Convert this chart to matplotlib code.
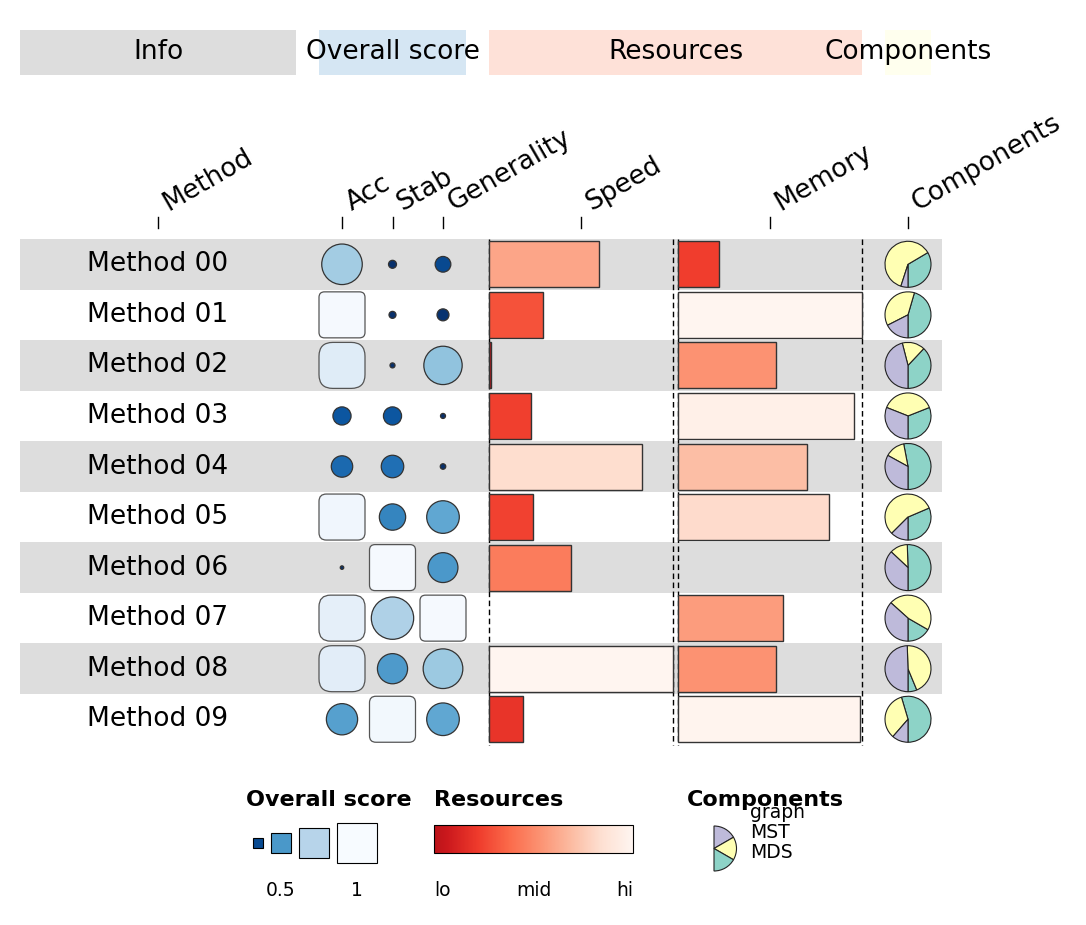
import numpy as np
import matplotlib
matplotlib.use("Agg")
import matplotlib.pyplot as plt
from matplotlib.patches import Rectangle, Circle, FancyBboxPatch, Wedge

# ---------------- data ----------------
methods = ["Method 00", "Method 01", "Method 02", "Method 03", "Method 04",
           "Method 05", "Method 06", "Method 07", "Method 08", "Method 09"]
acc = [0.70, 0.99, 0.90, 0.29, 0.35, 0.97, 0.022, 0.925, 0.91, 0.53]
stab = [0.104, 0.086, 0.05, 0.29, 0.37, 0.44, 0.99, 0.733, 0.51, 0.98]
gen = [0.245, 0.177, 0.66, 0.05, 0.059, 0.555, 0.505, 0.99, 0.684, 0.555]
speed = [0.60, 0.295, 0.012, 0.23, 0.83, 0.24, 0.445, 0.0, 1.0, 0.185]
memory = [0.225, 1.0, 0.53, 0.958, 0.70, 0.82, 0.0, 0.57, 0.53, 0.99]
comp_mds = [0.335, 0.455, 0.38, 0.31, 0.53, 0.314, 0.505, 0.167, 0.0625, 0.546]
comp_mst = [0.615, 0.37, 0.16, 0.38, 0.14, 0.56, 0.125, 0.467, 0.443, 0.34]
comp_graph = [0.05, 0.175, 0.46, 0.31, 0.33, 0.125, 0.37, 0.367, 0.495, 0.114]
comp_names = ["graph", "MST", "MDS"]
score_cols = ["Acc", "Stab", "Generality"]
res_cols = ["Speed", "Memory"]
groups = ["Info", "Overall score", "Resources", "Components"]
legend_scores = [0.25, 0.5, 0.75, 1.0]
legend_score_labels = {0.5: "0.5", 1.0: "1"}

# ---------------- layout ----------------
W_PX, H_PX = 1086, 925
fig = plt.figure(figsize=(W_PX / 100, H_PX / 100), dpi=100)
ax = fig.add_axes([0, 0, 1, 1])
ax.set_xlim(0, W_PX)
ax.set_ylim(H_PX, 0)
ax.axis("off")

row_y0, row_h, cell = 264.3, 50.55, 46.0
method_x = 158
score_x = [342, 392.5, 443]
bar_x0 = [489, 678]
bar_w = 184
pie_x = 908
pie_r = 23
fs = 19
lfs = 16

blues = matplotlib.colormaps["Blues"]
reds = matplotlib.colormaps["Reds"]
set3 = {"MDS": "#8dd3c7", "MST": "#ffffb3", "graph": "#bebada"}

def blue_col(v):
    return blues(min(1.0, 1.2 * (1 - v)))

def red_col(v):
    return reds(0.8 * (1 - v))

n = len(methods)
ys = [row_y0 + i * row_h for i in range(n)]
top = ys[0] - row_h / 2
bottom = ys[-1] + row_h / 2

# row backgrounds
for i, y in enumerate(ys):
    if i % 2 == 0:
        ax.add_patch(Rectangle((20, y - row_h / 2), 942 - 20, row_h,
                               facecolor="#dddddd", edgecolor="none", zorder=0))

# group header boxes
group_spans = [(20, 296, "#dddddd"), (319, 466, "#d5e6f3"),
               (489, 862, "#fee1d8"), (885, 931, "#ffffee")]
for name, (x0, x1, c) in zip(groups, group_spans):
    ax.add_patch(Rectangle((x0, 30), x1 - x0, 45, facecolor=c, edgecolor="none", zorder=1))
    ax.text((x0 + x1) / 2, 52, name, ha="center", va="center", fontsize=fs, zorder=2)

# column labels and ticks
col_labels = ["Method"] + score_cols + res_cols + ["Components"]
col_xs = [method_x] + score_x + [b + bar_w / 2 for b in bar_x0] + [pie_x]
for lab, x in zip(col_labels, col_xs):
    ax.plot([x, x], [217, 228], color="black", lw=1, zorder=2)
    ax.text(x + 10, 211, lab, rotation=30, rotation_mode="anchor",
            ha="left", va="baseline", fontsize=fs, zorder=2)

# method names
for m, y in zip(methods, ys):
    ax.text(method_x, y, m, ha="center", va="center", fontsize=fs, zorder=3)

# funky rectangles / circles
def funky(xc, yc, v):
    col = blue_col(v)
    if v >= 0.8:
        t = (v - 0.8) / 0.2
        r = cell / 2 * (1 - 0.8 * t)
        r = max(min(r, cell / 2 - 0.01), 0.5)
        ax.add_patch(FancyBboxPatch((xc - cell / 2, yc - cell / 2), cell, cell,
                                    boxstyle=f"round,pad=0,rounding_size={r}",
                                    facecolor=col, edgecolor="#555555", lw=0.9, zorder=3))
    else:
        d = cell * (0.05 + 0.95 * v / 0.8)
        ax.add_patch(Circle((xc, yc), d / 2, facecolor=col, edgecolor="#333333",
                            lw=0.9, zorder=3))

for vals, x in zip([acc, stab, gen], score_x):
    for v, y in zip(vals, ys):
        funky(x, y, v)

# dashed guide lines for bars
for b in bar_x0:
    for x in (b, b + bar_w):
        ax.plot([x, x], [top, bottom], color="black", lw=1,
                linestyle=(0, (4, 2.5)), zorder=1)

# bars
for vals, b in zip([speed, memory], bar_x0):
    for v, y in zip(vals, ys):
        if v <= 0:
            continue
        ax.add_patch(Rectangle((b, y - cell / 2), v * bar_w, cell,
                               facecolor=red_col(v), edgecolor="#333333", lw=1, zorder=3))

# pies (start at bottom, counterclockwise: MDS, MST, graph)
def wedge_vis(xc, yc, r, a1, a2, color, z=3):
    # visual angles (counterclockwise on screen); y axis inverted
    ax.add_patch(Wedge((xc, yc), r, -a2, -a1, facecolor=color,
                       edgecolor="#222222", lw=0.8, zorder=z))

for i, y in enumerate(ys):
    parts = [("MDS", comp_mds[i]), ("MST", comp_mst[i]), ("graph", comp_graph[i])]
    tot = sum(p for _, p in parts)
    a = -90.0
    for name, p in parts:
        if p <= 0:
            continue
        a2 = a + 360 * p / tot
        wedge_vis(pie_x, y, pie_r, a, a2, set3[name])
        a = a2

# ---------------- legends ----------------
ax.text(246, 800, "Overall score", ha="left", va="center", fontsize=lfs, fontweight="bold")
x = 253
for v in legend_scores:
    s = 40 * v
    ax.add_patch(Rectangle((x, 843 - s / 2), s, s, facecolor=blue_col(v),
                           edgecolor="black", lw=0.8, zorder=3))
    if v in legend_score_labels:
        ax.text(x + s / 2, 890, legend_score_labels[v], ha="center", va="center", fontsize=13.5)
    x += s + 8

ax.text(434, 800, "Resources", ha="left", va="center", fontsize=lfs, fontweight="bold")
grad = np.linspace(0, 1, 256)
grad_cols = np.array([red_col(g) for g in grad])[None, :, :]
ax.imshow(grad_cols, extent=(434, 633, 853, 825), aspect="auto", zorder=3,
          interpolation="bilinear")
ax.add_patch(Rectangle((434, 825), 633 - 434, 28, facecolor="none",
                       edgecolor="black", lw=0.8, zorder=4))
ax.text(434, 890, "lo", ha="left", va="center", fontsize=13.5)
ax.text(533.5, 890, "mid", ha="center", va="center", fontsize=13.5)
ax.text(633, 890, "hi", ha="right", va="center", fontsize=13.5)

ax.text(687, 800, "Components", ha="left", va="center", fontsize=lfs, fontweight="bold")
lc = (714, 848.5)
for k, name in enumerate(comp_names):
    a_hi = 90 - 60 * k
    wedge_vis(lc[0], lc[1], 22.5, a_hi - 60, a_hi, set3[name])
    ax.text(750, 812 + 20 * k, name, ha="left", va="center", fontsize=13.5)

ax.set_xlim(0, W_PX)
ax.set_ylim(H_PX, 0)
fig.savefig("out.png", dpi=100, facecolor="white")
